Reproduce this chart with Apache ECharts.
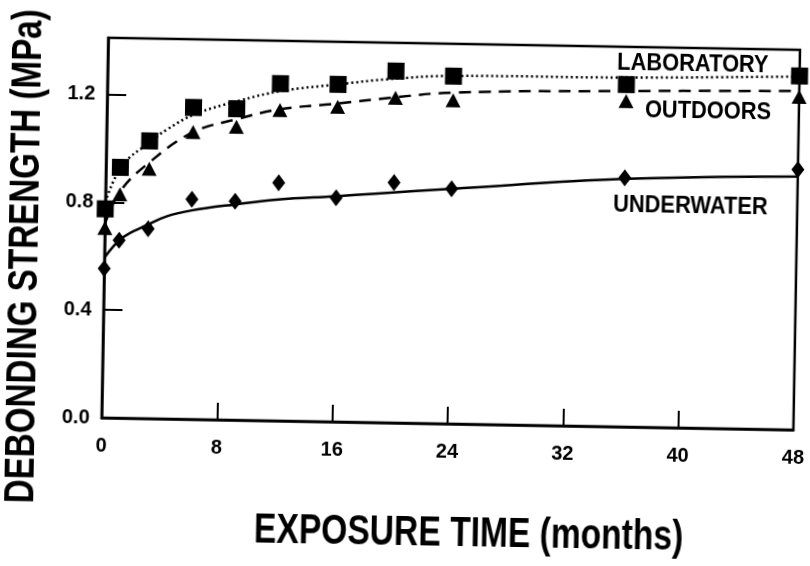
<!DOCTYPE html>
<html><head><meta charset="utf-8">
<script src="https://cdn.jsdelivr.net/npm/echarts@6/dist/echarts.min.js"></script>
<style>
html,body{margin:0;padding:0;background:#fff;overflow:hidden;width:810px;height:566px}
#c{width:810px;height:566px;transform:rotate(1deg);transform-origin:405px 283px;}
</style></head><body><div id="c"></div>
<script>
// measured points (months, MPa)
const months = [0, 1, 3, 6, 9, 12, 16, 20, 24, 36, 48];
const laboratory = [0.775, 0.93, 1.03, 1.157, 1.155, 1.251, 1.252, 1.305, 1.29, 1.27, 1.313];
const outdoors   = [0.704, 0.83, 0.927, 1.066, 1.088, 1.153, 1.169, 1.206, 1.20, 1.209, 1.236];
const underwater = [0.554, 0.66, 0.704, 0.816, 0.812, 0.883, 0.831, 0.891, 0.872, 0.924, 0.966];

// fitted trend curves
const labFitX = [0, 1.1, 3, 4.2, 6.1, 9.1, 12.1, 16, 19.4, 24, 36, 48];
const labFitY = [0.80, 0.935, 1.025, 1.074, 1.132, 1.184, 1.224, 1.252, 1.274, 1.291, 1.296, 1.311];
const outFitX = [0, 1, 3, 6, 9, 12, 16, 19.7, 24, 36, 48];
const outFitY = [0.72, 0.84, 0.95, 1.065, 1.116, 1.156, 1.181, 1.206, 1.229, 1.246, 1.257];
const undFitX = [0, 1.2, 3, 4.3, 6, 9, 12, 16, 18.7, 24, 36, 48];
const undFitY = [0.593, 0.668, 0.72, 0.752, 0.775, 0.80, 0.821, 0.837, 0.849, 0.872, 0.92, 0.94];

const xTicks = [0, 8, 16, 24, 32, 40, 48];
const yTicks = [0, 0.4, 0.8, 1.2];
const seriesNames = ['LABORATORY', 'OUTDOORS', 'UNDERWATER'];
const xTitle = 'EXPOSURE TIME (months)';
const yTitle = 'DEBONDING STRENGTH (MPa)';

const zip = (xs, ys) => xs.map((x, i) => [x, ys[i]]);
const WIDE = '"Liberation Sans", Arial, sans-serif';

const chart = echarts.init(document.getElementById('c'), null, {renderer: 'canvas'});
const isTick = (v, arr) => arr.some(t => Math.abs(t - v) < 1e-6);

const option = {
  backgroundColor: '#fff',
  animation: false,
  grid: {left: 104, right: 8, top: 43, bottom: 143, show: true, borderColor: '#000', borderWidth: 2.5, containLabel: false},
  xAxis: {
    type: 'value', min: 0, max: 48, interval: 8,
    axisLine: {show: true, onZero: false, lineStyle: {color: '#000', width: 2.5}},
    axisTick: {show: true, inside: true, length: 17, lineStyle: {color: '#000', width: 2}},
    axisLabel: {margin: 18, color: '#000', fontFamily: WIDE, fontWeight: 'bold', fontSize: 20,
      formatter: v => isTick(v, xTicks) ? String(v) : ''},
    splitLine: {show: false}
  },
  yAxis: {
    type: 'value', min: 0, max: 1.41, interval: 0.4,
    axisLine: {show: true, onZero: false, lineStyle: {color: '#000', width: 2.5}},
    axisTick: {show: true, inside: true, length: 19, lineStyle: {color: '#000', width: 2}},
    axisLabel: {margin: 12, color: '#000', fontFamily: WIDE, fontWeight: 'bold', fontSize: 20,
      showMaxLabel: false,
      formatter: v => isTick(v, yTicks) ? v.toFixed(1) : ''},
    splitLine: {show: false}
  },
  series: [
    {type: 'line', name: seriesNames[0] + ' fit', data: zip(labFitX, labFitY), smooth: 0.4, showSymbol: false, symbol: 'none',
      lineStyle: {color: '#000', width: 2.5, type: [2, 3]}, z: 2, silent: true},
    {type: 'line', name: seriesNames[1] + ' fit', data: zip(outFitX, outFitY), smooth: 0.4, showSymbol: false, symbol: 'none',
      lineStyle: {color: '#000', width: 2.5, type: [12, 8]}, z: 2, silent: true},
    {type: 'line', name: seriesNames[2] + ' fit', data: zip(undFitX, undFitY), smooth: 0.4, showSymbol: false, symbol: 'none',
      lineStyle: {color: '#000', width: 2.5}, z: 2, silent: true},
    {type: 'scatter', name: seriesNames[0], data: zip(months, laboratory), symbol: 'rect', symbolSize: 17,
      itemStyle: {color: '#000', opacity: 1}, clip: false, z: 3},
    {type: 'scatter', name: seriesNames[1], data: zip(months, outdoors), symbol: 'triangle', symbolSize: [15, 14],
      itemStyle: {color: '#000', opacity: 1}, clip: false, z: 3},
    {type: 'scatter', name: seriesNames[2], data: zip(months, underwater), symbol: 'diamond', symbolSize: [13, 17],
      itemStyle: {color: '#000', opacity: 1}, clip: false, z: 3}
  ],
  graphic: [
    {type: 'text', x: 689, y: 60, scaleX: 0.95, style: {text: seriesNames[0], font: 'bold 23px ' + WIDE, fill: '#000', align: 'center', verticalAlign: 'middle'}, z: 10},
    {type: 'text', x: 705, y: 107, scaleX: 0.95, style: {text: seriesNames[1], font: 'bold 23px ' + WIDE, fill: '#000', align: 'center', verticalAlign: 'middle'}, z: 10},
    {type: 'text', x: 689, y: 202, scaleX: 0.95, style: {text: seriesNames[2], font: 'bold 23px ' + WIDE, fill: '#000', align: 'center', verticalAlign: 'middle'}, z: 10},
    {type: 'text', x: 473, y: 533, scaleX: 0.8, style: {text: xTitle, font: 'bold 42px ' + WIDE, fill: '#000', align: 'center', verticalAlign: 'middle'}},
    {type: 'text', x: 25, y: 263, rotation: Math.PI / 2, scaleX: 0.79, style: {text: yTitle, font: 'bold 42px ' + WIDE, fill: '#000', align: 'center', verticalAlign: 'middle'}}
  ]
};
chart.setOption(option);
</script></body></html>
